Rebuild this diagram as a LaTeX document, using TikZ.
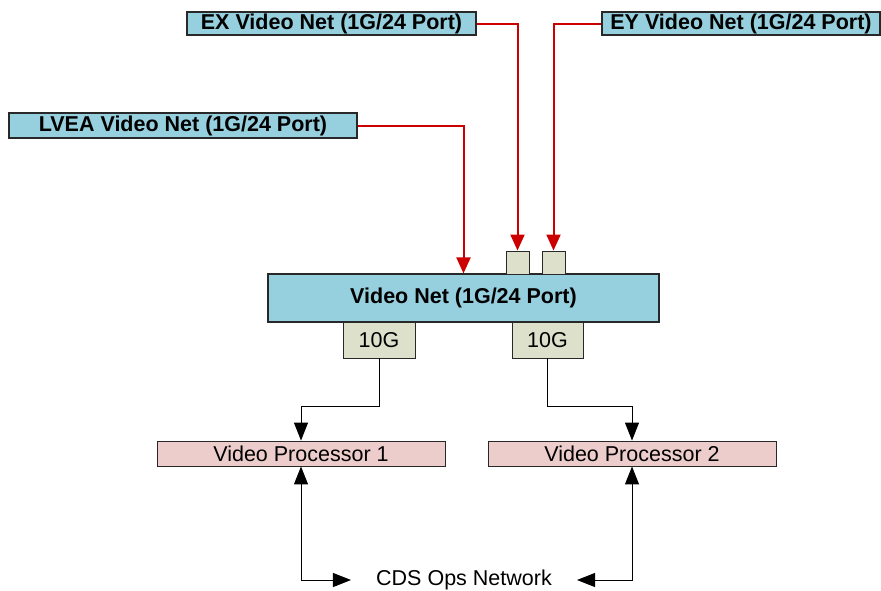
\documentclass[tikz,border=0pt]{standalone}
\usepackage{fontspec}
\setmainfont{Liberation Sans}
\usetikzlibrary{arrows.meta}
\definecolor{netblue}{RGB}{150,207,221}
\definecolor{portgray}{RGB}{221,224,203}
\definecolor{procpink}{RGB}{237,204,204}
\definecolor{linkred}{rgb}{0.8,0,0}
\definecolor{edgegray}{RGB}{40,40,40}
\tikzset{
  netbox/.style={draw=edgegray, line width=1.1pt, fill=netblue, inner sep=0pt, font=\fontsize{21.5}{25}\selectfont\bfseries},
  portbox/.style={draw=edgegray, line width=0.9pt, fill=portgray, inner sep=0pt, font=\fontsize{21.5}{25}\selectfont},
  procbox/.style={draw=edgegray, line width=0.9pt, fill=procpink, inner sep=0pt, font=\fontsize{21.5}{25}\selectfont},
  redlink/.style={draw=linkred, line width=2pt, -{Triangle[length=16pt,width=14pt]}},
  blacklink/.style={color=black, line width=1pt, -{Triangle[length=18pt,width=14pt]}},
  bilink/.style={color=black, line width=1pt, {Triangle[length=18pt,width=14pt]}-{Triangle[length=18pt,width=14pt]}},
}
\begin{document}
\begin{tikzpicture}[x=1pt,y=-1pt]
\useasboundingbox (0,0) rectangle (881,590);
% top-level nets
\node[netbox, minimum width=289pt, minimum height=23pt] (ex) at (331.5,23.5) {EX Video Net (1G/24 Port)};
\node[netbox, minimum width=278pt, minimum height=23pt] (ey) at (741,23.5) {EY Video Net (1G/24 Port)};
\node[netbox, minimum width=348pt, minimum height=25pt] (lvea) at (183,125.5) {LVEA Video Net (1G/24 Port)};
% main switch
\node[netbox, minimum width=391pt, minimum height=48pt] (main) at (463.5,298) {Video Net (1G/24 Port)};
\node[portbox, minimum width=23pt, minimum height=23pt] (p1) at (517.5,262.5) {};
\node[portbox, minimum width=23pt, minimum height=23pt] (p2) at (553.5,262.5) {};
\node[portbox, minimum width=72pt, minimum height=36pt] (g1) at (379,340) {10G};
\node[portbox, minimum width=71pt, minimum height=36pt] (g2) at (547.5,340) {10G};
% processors
\node[procbox, minimum width=288pt, minimum height=25pt] (vp1) at (301,453.5) {Video Processor 1};
\node[procbox, minimum width=288pt, minimum height=25pt] (vp2) at (632,453.5) {Video Processor 2};
\node[font=\fontsize{21.5}{25}\selectfont, inner xsep=25pt, inner ysep=0pt] (cds) at (464,580) {CDS Ops Network};
% connectors
\draw[redlink] (ex.east) -| (p1.north);
\draw[redlink] (ey.west) -| (p2.north);
\draw[redlink] (lvea.east) -| (main.north);
\draw[blacklink] (g1.south) -- ++(0,48) -| (vp1.north);
\draw[blacklink] (g2.south) -- ++(0,48) -| (vp2.north);
\draw[bilink] (vp1.south) |- (cds.west);
\draw[bilink] (vp2.south) |- (cds.east);
\end{tikzpicture}
\end{document}
